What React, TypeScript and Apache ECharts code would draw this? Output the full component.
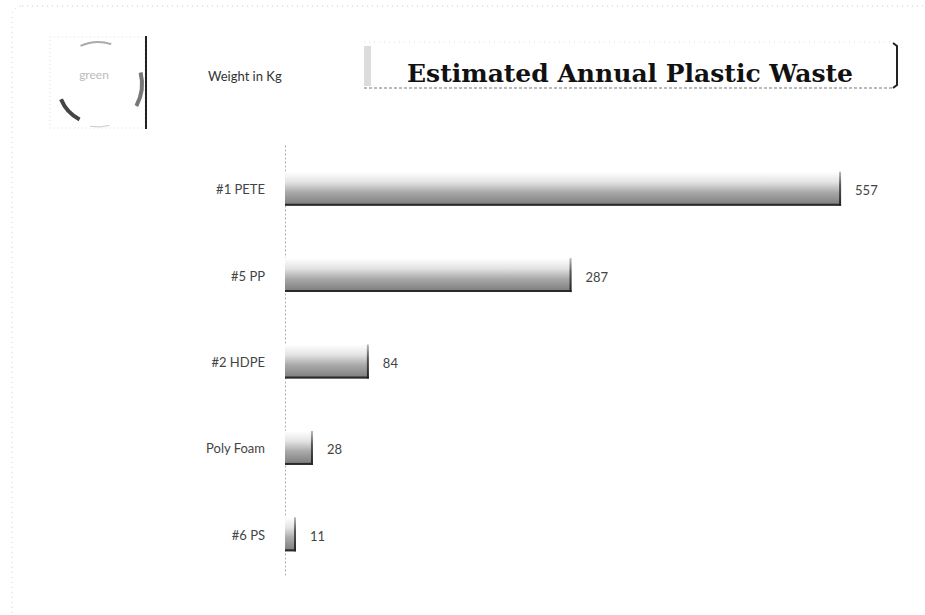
import React, { useEffect, useRef } from "react";
import * as echarts from "echarts";

const categories = ["#1 PETE", "#5 PP", "#2 HDPE", "Poly Foam", "#6 PS"];
const weights = [557, 287, 84, 28, 11];
const titleText = "Estimated Annual Plastic Waste";
const unitText = "Weight in Kg";

export default function App() {
  const ref = useRef<HTMLDivElement>(null);
  useEffect(() => {
    document.body.style.margin = "0";
    const chart = echarts.init(ref.current!, null, { renderer: "svg" });
    const barFill = new echarts.graphic.LinearGradient(0, 0, 0, 1, [
      { offset: 0, color: "#ffffff" },
      { offset: 0.3, color: "#e4e4e4" },
      { offset: 0.6, color: "#aaaaaa" },
      { offset: 1, color: "#7a7a7a" },
    ]);
    const edgeFill = new echarts.graphic.LinearGradient(0, 0, 0, 1, [
      { offset: 0, color: "#bbbbbb" },
      { offset: 0.4, color: "#555555" },
      { offset: 1, color: "#222222" },
    ]);
    const option: any = {
      animation: false,
      backgroundColor: "#ffffff",
      grid: { left: 285, top: 146, width: 599, height: 432, containLabel: false },
      xAxis: { type: "value", min: 0, max: 600, show: false },
      yAxis: {
        type: "category",
        data: categories,
        inverse: true,
        axisLine: { show: true, lineStyle: { color: "#aaaaaa", type: [1, 3], width: 1 } },
        axisTick: { show: false },
        axisLabel: { margin: 20, color: "#444444", fontSize: 13, fontFamily: "Lato" },
        splitLine: { show: false },
      },
      series: [
        {
          type: "custom",
          data: weights.map((v, i) => [v, i]),
          encode: { x: 0, y: 1 },
          renderItem: (params: any, api: any) => {
            const v = api.value(0);
            const c = api.value(1);
            const end = api.coord([v, c]);
            const start = api.coord([0, c]);
            const bh = 34;
            const top = end[1] - bh / 2 - 0.5;
            const w = end[0] - start[0];
            return {
              type: "group",
              children: [
                { type: "rect", shape: { x: start[0], y: top, width: w, height: bh }, style: { fill: barFill } },
                { type: "line", shape: { x1: start[0], y1: top + bh - 1, x2: end[0], y2: top + bh - 1 }, style: { stroke: "#2a2a2a", lineWidth: 2 } },
                { type: "rect", shape: { x: end[0] - 2, y: top, width: 2, height: bh }, style: { fill: edgeFill } },
                {
                  type: "text",
                  style: {
                    x: end[0] + 14,
                    y: end[1] + 1,
                    text: String(v),
                    fill: "#444444",
                    font: "13px Lato",
                    verticalAlign: "middle",
                    align: "left",
                  },
                },
              ],
            };
          },
        },
      ],
      graphic: [
        // outer frame
        { type: "rect", shape: { x: 12, y: 6, width: 940, height: 640, r: 10 }, style: { fill: "none", stroke: "#cccccc", lineWidth: 1, lineDash: [1, 4] }, silent: true },
        // logo
        { type: "rect", shape: { x: 50, y: 37, width: 95, height: 91 }, style: { fill: "none", stroke: "#dddddd", lineWidth: 1, lineDash: [1, 3] } },
        { type: "arc", shape: { cx: 98, cy: 84, r: 42, startAngle: -2.0, endAngle: -1.25 }, style: { stroke: "#aaaaaa", lineWidth: 2, fill: "none" } },
        { type: "arc", shape: { cx: 98, cy: 84, r: 40, startAngle: 2.05, endAngle: 2.75 }, style: { stroke: "#444444", lineWidth: 4, fill: "none" } },
        { type: "arc", shape: { cx: 96, cy: 84, r: 46, startAngle: -0.25, endAngle: 0.5 }, style: { stroke: "#777777", lineWidth: 4, fill: "none" } },
        { type: "arc", shape: { cx: 98, cy: 84, r: 43, startAngle: 1.3, endAngle: 1.75 }, style: { stroke: "#cccccc", lineWidth: 1, fill: "none" } },
        { type: "text", style: { x: 94, y: 74, text: "green", fill: "#bbbbbb", font: "12px Lato", align: "center", verticalAlign: "middle" } },
        { type: "line", shape: { x1: 146, y1: 36, x2: 146, y2: 129 }, style: { stroke: "#222222", lineWidth: 2 } },
        // unit label
        { type: "text", style: { x: 208, y: 76, text: unitText, fill: "#333333", font: "13px Lato", align: "left", verticalAlign: "middle" } },
        // title box
        { type: "rect", shape: { x: 364, y: 46, width: 7, height: 40 }, style: { fill: "#dcdcdc" } },
        { type: "line", shape: { x1: 364, y1: 42, x2: 893, y2: 42 }, style: { stroke: "#dddddd", lineWidth: 1, lineDash: [1, 4] } },
        { type: "line", shape: { x1: 364, y1: 88, x2: 893, y2: 88 }, style: { stroke: "#777777", lineWidth: 1, lineDash: [3, 2] } },
        { type: "polyline", shape: { points: [[893, 43], [897, 46], [897, 85], [893, 88]] }, style: { stroke: "#222222", lineWidth: 2, fill: "none" } },
        { type: "text", style: { x: 407, y: 73, text: titleText, fill: "#111111", font: "bold 25px 'DejaVu Serif'", align: "left", verticalAlign: "middle" } },
      ],
    };
    chart.setOption(option);
    return () => chart.dispose();
  }, []);
  return <div ref={ref} style={{ width: 925, height: 615 }} />;
}
